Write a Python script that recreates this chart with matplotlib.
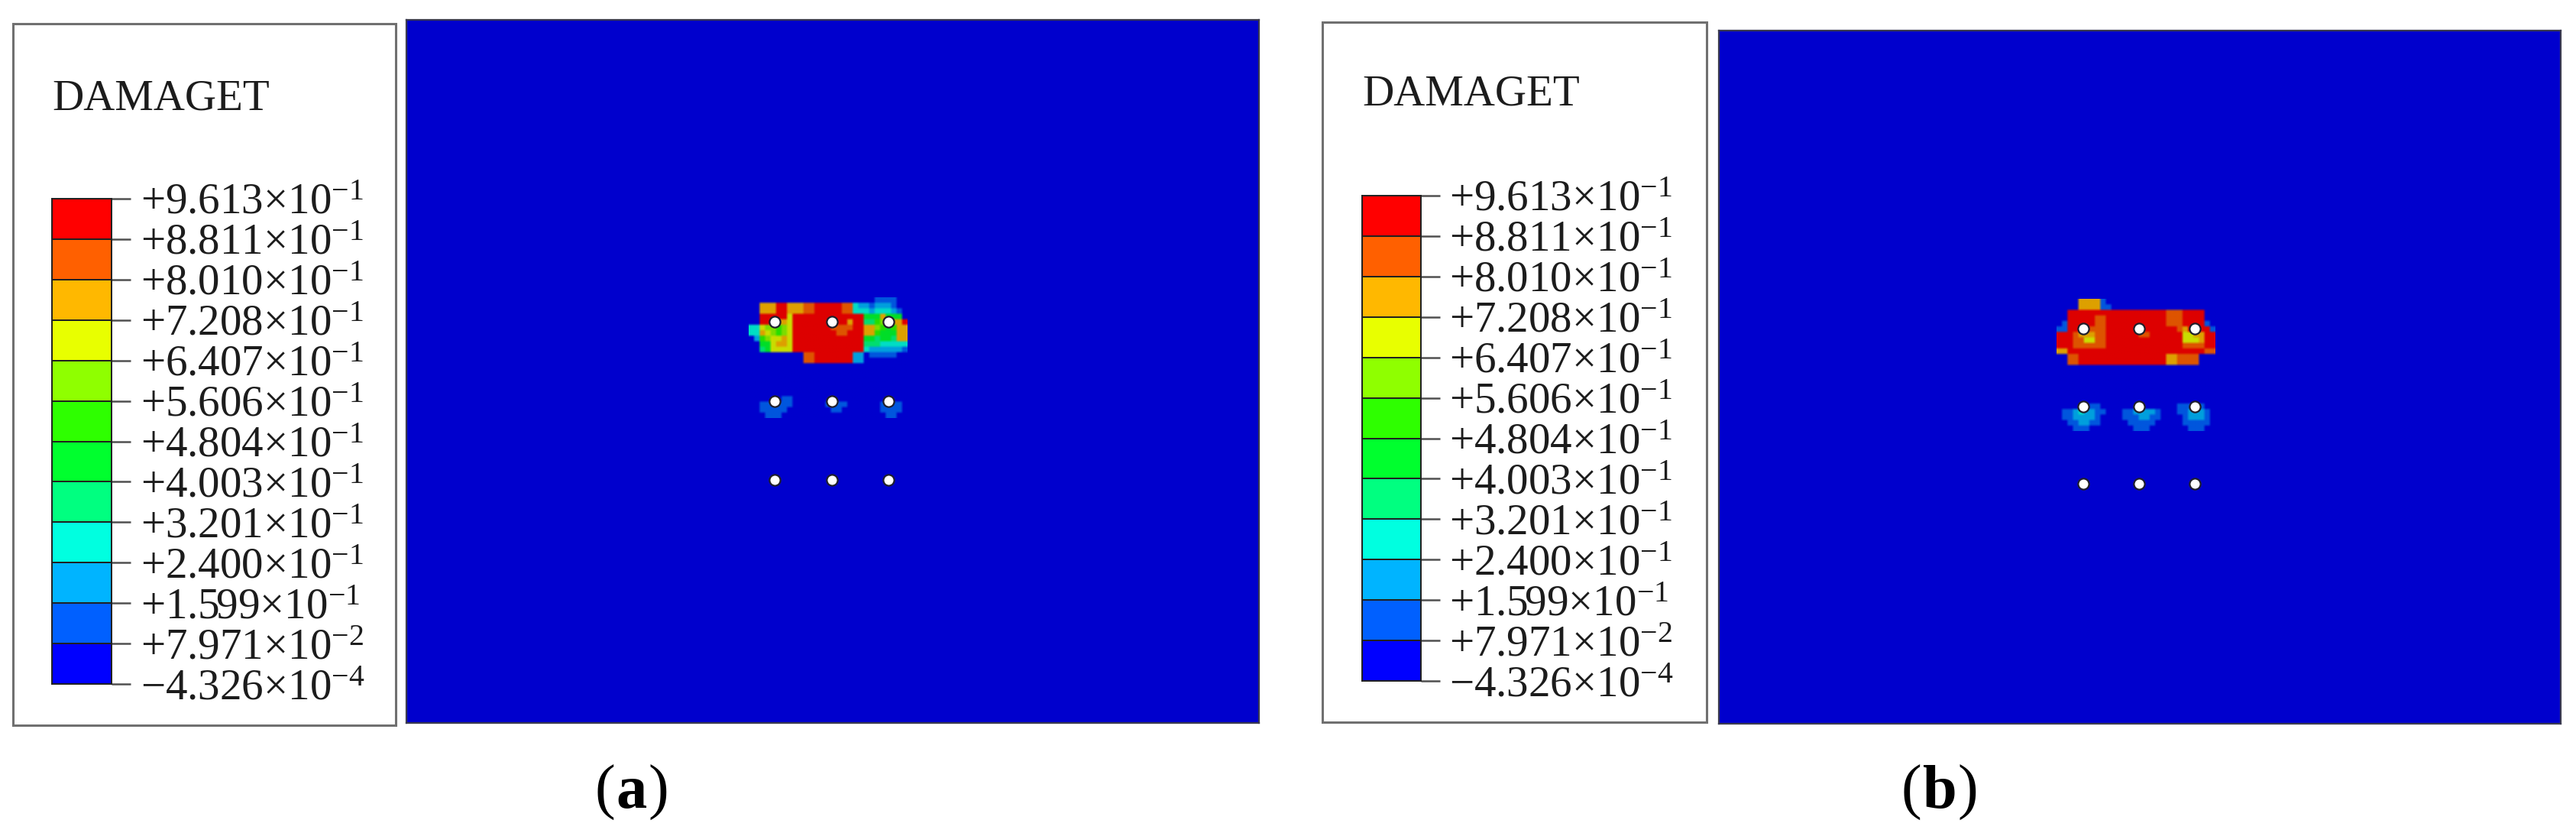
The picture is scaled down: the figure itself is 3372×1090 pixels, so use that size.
import numpy as np
import matplotlib
matplotlib.use('Agg')
import matplotlib.pyplot as plt
from matplotlib.colors import ListedColormap, BoundaryNorm
from matplotlib.patches import Rectangle

plt.rcParams['font.family'] = ['Liberation Serif', 'DejaVu Serif']
plt.rcParams['mathtext.fontset'] = 'stix'
plt.rcParams['mathtext.default'] = 'regular'

W, H = 3373, 1090
legend_title = 'DAMAGET'
contour_values = [9.613e-1, 8.811e-1, 8.010e-1, 7.208e-1, 6.407e-1, 5.606e-1, 4.804e-1,
                  4.003e-1, 3.201e-1, 2.400e-1, 1.599e-1, 7.971e-2, -4.326e-4]
contour_labels = ['+9.613×10$^{-1}$', '+8.811×10$^{-1}$', '+8.010×10$^{-1}$', '+7.208×10$^{-1}$',
                  '+6.407×10$^{-1}$', '+5.606×10$^{-1}$', '+4.804×10$^{-1}$', '+4.003×10$^{-1}$',
                  '+3.201×10$^{-1}$', '+2.400×10$^{-1}$', '+1.599×10$^{-1}$', '+7.971×10$^{-2}$',
                  '−4.326×10$^{-4}$']
# lowest band first
band_colors = ['#0000ff', '#0060ff', '#00b4ff', '#00ffe0', '#00ff80', '#00ff2e',
               '#2eff00', '#8fff00', '#e8ff00', '#ffb800', '#ff6000', '#ff0000']
field_colors = ['#0000cd', '#0056dd', '#009fdd', '#00ddc4', '#00dd70', '#00dd28',
                '#28dd00', '#7cdd00', '#c9dd00', '#dda000', '#dd5400', '#dd0000']

# damage band index (hex digit, 0 = lowest ... b = highest) per mesh cell
field_a = [
    "00000000000000000000000111100",
    "00999bb999aabbbbbaa3221222100",
    "00999bb999aabbbbbaa3332333210",
    "00bbbbb8bbbbbbbbbbbbb55595550",
    "00bbb998bbbbbbbbbb9bb44679 9b"[:29].replace(' ', '9'),
    "33877678bbbbbbbaaaabb99765699",
    "33987678bbbbbbbbaabbb99655599",
    "02678898bbbbbbbbbbbbb55455499",
    "00558998bbbbbbbbbbbbb44433333",
    "00458888bbbbbbbbbbbbb32222221",
    "0000000000aabbbbbbb2201111100",
    "0000000000aabbbbbbb2200000000",
    "00000000000000000000000000000",
    "00000000000000000000000000000",
    "00000000000000000000000000000",
    "00000000000000000000000000000",
    "00000000000000000000000000000",
    "00000000000000000000000000000",
    "00000011000000000000000000000",
    "00111111000000111100000011110",
    "00111110000000011000000011110",
    "00011100000000000000000001100",
]
field_b = [
    "00009999100000000000000000000",
    "00009999110000000000000000000",
    "00bbbbbbbbbbbbbbbbbbaaabbbb00",
    "00bbbbbaabbbbbbbbbbbaaabbbb00",
    "01bbbbbaabbbbbbbbbbbaaabbbb10",
    "11bbbbaaabbbbbbbbbbbbba9bbbb1",
    "bbba999aabbbbbbaabbbbbb8899bb",
    "bbbaa88aabbbbbbbbbbbbbb8889bb",
    "bbbaaaaaabbbbbbbbbbbbbbaaaabb",
    "99bbbbbbbbbbbbbbbbbbbbbbbbbaa",
    "00aabbbbbbbbbbbbbbbb99aaaa000",
    "00aabbbbbbbbbbbbbbbb99aaaa000",
    "00000000000000000000000000000",
    "00000000000000000000000000000",
    "00000000000000000000000000000",
    "00000000000000000000000000000",
    "00000000000000000000000000000",
    "00000000000000000000000000000",
    "00000000000000000000000000000",
    "00000011000000000000001110100",
    "01123221100011222210001122210",
    "01122221000011122110000122210",
    "00112211000001111100000111110",
    "00011100000000111000000011100",
]
# fastener holes, position inside each panel
holes_a_x = [482, 557, 631]
holes_a_y = [395, 499, 602]
holes_b_x = [477, 550, 623]
holes_b_y = [390, 492, 593]

fig = plt.figure(figsize=(W / 100, H / 100), dpi=100, facecolor='white')


def px_axes(x0, y0, x1, y1, **kw):
    return fig.add_axes([x0 / W, 1 - y1 / H, (x1 - x0) / W, (y1 - y0) / H], **kw)


levels = np.linspace(-0.5, 11.5, 13)
field_cmap = ListedColormap(field_colors)
field_norm = BoundaryNorm(levels, field_cmap.N)
CELL = 7.167


def draw_panel(box, field, origin, hx, hy):
    ax = px_axes(*box)
    ax.set_facecolor('#0000cd')
    grid = np.array([[int(ch, 16) for ch in row] for row in field])
    fine = np.kron(grid, np.ones((2, 2), dtype=int))
    ox, oy = origin
    ax.imshow(fine, cmap=field_cmap, norm=field_norm, interpolation='bilinear',
              interpolation_stage='rgba', aspect='auto',
              extent=(ox, ox + grid.shape[1] * CELL, oy + grid.shape[0] * CELL, oy))
    xs, ys = np.meshgrid(hx, hy)
    ax.scatter(xs.ravel(), ys.ravel(), s=105, c='white', edgecolors='#20202c', linewidths=1.6, zorder=3)
    ax.set_xlim(0, box[2] - box[0])
    ax.set_ylim(box[3] - box[1], 0)
    ax.set_xticks([])
    ax.set_yticks([])
    for s in ax.spines.values():
        s.set_linewidth(1.6)
        s.set_color('#3a3a50')


def draw_legend(box, bar, title_pos):
    fig.add_artist(Rectangle((box[0] / W, 1 - box[3] / H), (box[2] - box[0]) / W, (box[3] - box[1]) / H,
                             transform=fig.transFigure, facecolor='white',
                             edgecolor='#707070', linewidth=2.2, zorder=-1))
    fig.text(title_pos[0] / W, 1 - title_pos[1] / H, legend_title, fontsize=41, color='#1c1c1c',
             ha='left', va='baseline')
    cax = px_axes(*bar)
    edges = np.array(contour_values[::-1])
    cax.pcolormesh([0, 1], edges, np.arange(12).reshape(-1, 1), cmap=ListedColormap(band_colors),
                   norm=BoundaryNorm(levels, 12), edgecolors='#202020', linewidth=1.4)
    cax.set_xlim(0, 1)
    cax.set_ylim(edges[0], edges[-1])
    cax.set_xticks([])
    cax.set_yticks(contour_values)
    cax.set_yticklabels(contour_labels, fontsize=41, color='#1c1c1c')
    cax.yaxis.tick_right()
    cax.tick_params(axis='y', length=18, width=1.8, color='#505050', pad=9)
    for s in cax.spines.values():
        s.set_linewidth(1.4)
        s.set_color('#202020')


def caption(x, y, letter):
    r = fig.canvas.get_renderer()
    for txt, weight in (('(', 'normal'), (letter, 'bold'), (')', 'normal')):
        t = fig.text(x / W, 1 - y / H, txt, fontsize=58, fontweight=weight, color='black',
                     ha='left', va='baseline')
        x += t.get_window_extent(r).width + 1


draw_legend((17, 31, 518, 949), (68, 260, 146, 895), (68, 143))
draw_legend((1731, 29, 2234, 945), (1783, 256, 1860, 891), (1783, 137))
draw_panel((532, 26, 1648, 946), field_a, (980 - 532, 389.5 - 26), holes_a_x, holes_a_y)
draw_panel((2250, 40, 3352, 947), field_b, (2691.67 - 2250, 391.67 - 40), holes_b_x, holes_b_y)
caption(779, 1057, 'a')
caption(2489, 1057, 'b')

fig.savefig('out.png', dpi=100, facecolor='white')
